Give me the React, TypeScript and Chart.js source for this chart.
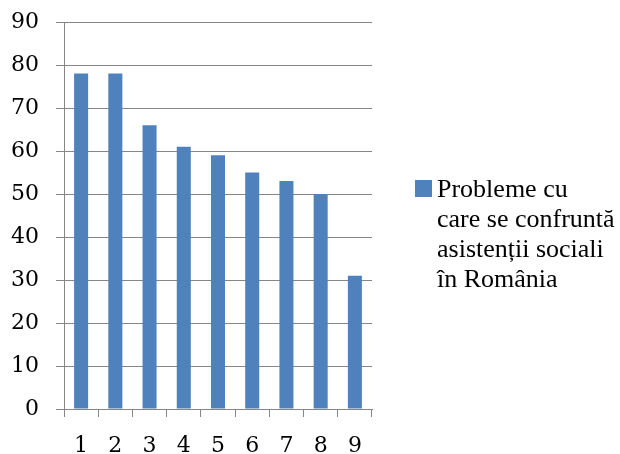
import React, { useEffect, useRef } from "react";
import { Chart, registerables } from "chart.js";

Chart.register(...registerables);

const categories = ["1", "2", "3", "4", "5", "6", "7", "8", "9"];
const values = [78, 78, 66, 61, 59, 55, 53, 50, 31];
const seriesLabelLines = ["Probleme cu", "care se confruntă", "asistenții sociali", "în România"];
const barColor = "#4F81BD";
const gridColor = "#868686";

const legendPlugin = {
  id: "customLegend",
  afterDraw(chart: any) {
    const ctx = chart.ctx;
    ctx.save();
    ctx.fillStyle = barColor;
    ctx.fillRect(415, 180, 17, 17);
    ctx.fillStyle = "#000";
    ctx.font = "26px 'Liberation Serif', serif";
    ctx.textBaseline = "alphabetic";
    ctx.textAlign = "left";
    seriesLabelLines.forEach((line, i) => {
      ctx.fillText(line, 437, 197 + i * 30);
    });
    ctx.restore();
  },
};

export default function App() {
  const ref = useRef<HTMLCanvasElement>(null);
  useEffect(() => {
    const chart = new Chart(ref.current!, {
      type: "bar",
      data: {
        labels: categories,
        datasets: [
          {
            label: seriesLabelLines.join(" "),
            data: values,
            backgroundColor: barColor,
            barPercentage: 0.41,
            categoryPercentage: 1,
          },
        ],
      },
      options: {
        responsive: false,
        animation: false,
        layout: { padding: { left: 0, right: 248, top: 22, bottom: 0 } },
        plugins: { legend: { display: false }, tooltip: { enabled: false } },
        scales: {
          x: {
            offset: true,
            grid: { offset: true, drawOnChartArea: false, drawTicks: true, tickLength: 8, color: gridColor },
            border: { color: gridColor },
            ticks: { color: "#000", font: { family: "'DejaVu Serif'", size: 22 }, padding: 16 },
            afterFit: (s: any) => { s.height = 45; s.paddingLeft = 0; s.paddingRight = 0; },
          },
          y: {
            min: 0,
            max: 90,
            ticks: { stepSize: 10, color: "#000", font: { family: "'DejaVu Serif'", size: 22 }, padding: 17 },
            grid: { color: gridColor, tickLength: 8 },
            border: { color: gridColor },
            afterFit: (s: any) => { s.width = 64; s.paddingTop = 0; s.paddingBottom = 0; },
          },
        },
      },
      plugins: [legendPlugin],
    });
    return () => chart.destroy();
  }, []);
  return (
    <div style={{ position: "absolute", left: 0, top: 0, width: 620, height: 454, background: "#fff" }}>
      <canvas ref={ref} width={620} height={454} />
    </div>
  );
}
